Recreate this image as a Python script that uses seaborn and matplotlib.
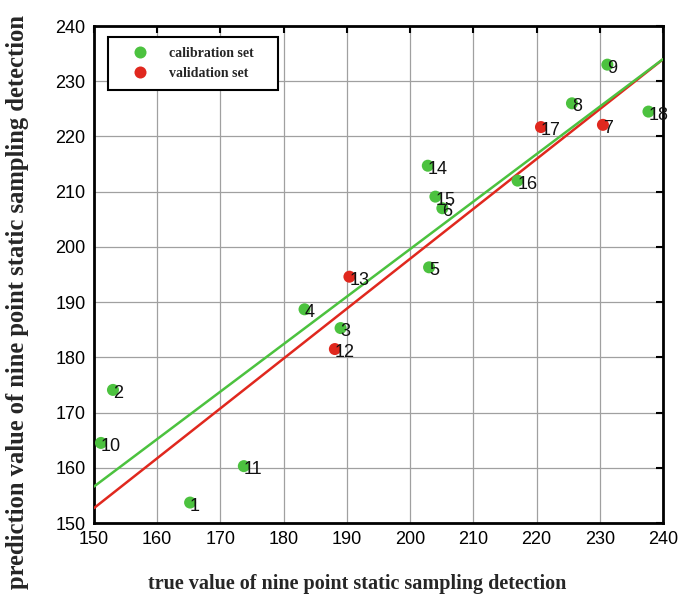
import matplotlib
matplotlib.use("Agg")
import matplotlib.pyplot as plt
import seaborn as sns
import pandas as pd
import numpy as np

# Sample values: true (static sampling) vs predicted
cal_ids = [1, 2, 3, 4, 5, 6, 8, 9, 10, 11, 14, 15, 16, 18]
cal_true = [165.2, 153.0, 189.0, 183.3, 203.0, 205.1, 225.6, 231.2, 151.1, 173.7, 202.8, 204.0, 217.0, 237.7]
cal_pred = [153.7, 174.1, 185.3, 188.7, 196.3, 207.0, 226.0, 233.0, 164.5, 160.3, 214.7, 209.1, 212.0, 224.5]

val_ids = [7, 12, 13, 17]
val_true = [230.5, 188.1, 190.4, 220.7]
val_pred = [222.1, 181.5, 194.6, 221.7]

# Fitted lines (slope, intercept)
cal_fit = (0.86, 27.6)
val_fit = (0.903, 17.25)

x_ticks = [150, 160, 170, 180, 190, 200, 210, 220, 230, 240]
y_ticks = [150, 160, 170, 180, 190, 200, 210, 220, 230, 240]

GREEN = "#4cc23f"
RED = "#e0281e"

sns.set_style("white")
plt.rcParams["font.family"] = ["Liberation Sans", "DejaVu Sans"]

df = pd.DataFrame({
    "true": cal_true + val_true,
    "pred": cal_pred + val_pred,
    "id": cal_ids + val_ids,
    "set": ["calibration set"] * len(cal_ids) + ["validation set"] * len(val_ids),
})

fig = plt.figure(figsize=(6.78, 6.01), dpi=100)
ax = fig.add_axes([94 / 678, 1 - 523 / 601, (663 - 94) / 678, (523 - 26) / 601])

# fitted lines
xs = np.array([150.0, 240.0])
line_df = pd.DataFrame({
    "x": np.concatenate([xs, xs]),
    "y": np.concatenate([val_fit[0] * xs + val_fit[1], cal_fit[0] * xs + cal_fit[1]]),
    "fit": ["validation"] * 2 + ["calibration"] * 2,
})
sns.lineplot(data=line_df, x="x", y="y", hue="fit",
             palette={"validation": RED, "calibration": GREEN},
             linewidth=1.8, legend=False, ax=ax, zorder=3)

sns.scatterplot(data=df, x="true", y="pred", hue="set",
                palette={"calibration set": GREEN, "validation set": RED},
                s=75, edgecolor="none", ax=ax, zorder=4)

for _, r in df.iterrows():
    ax.annotate(str(r["id"]), (r["true"], r["pred"]), xytext=(0, -2.5),
                textcoords="offset points", fontsize=13, color="#111111",
                ha="left", va="center", zorder=5)

ax.set_xlim(150, 240)
ax.set_ylim(150, 240)
ax.set_xticks(x_ticks)
ax.set_yticks(y_ticks)
ax.grid(True, color="#a0a0a0", linewidth=0.9, zorder=0)
ax.set_axisbelow(True)
for sp in ax.spines.values():
    sp.set_color("black")
    sp.set_linewidth(2.0)
ax.tick_params(direction="in", length=5, width=1.5, top=True, right=True,
               labelsize=13, colors="black", pad=6)

ax.set_xlabel("true value of nine point static sampling detection",
              family="Liberation Serif", fontweight="bold", fontsize=14.5)
ax.xaxis.label.set_va("center")
ax.xaxis.set_label_coords(0.462, -0.123)
ax.set_ylabel("prediction value of nine point static sampling detection",
              family="Liberation Serif", fontweight="bold", fontsize=17.7)
ax.yaxis.label.set_va("center")
ax.yaxis.set_label_coords(-0.134, 0.445)

leg = ax.legend(loc="upper left", bbox_to_anchor=(0.025, 0.87, 0.299, 0.108),
                mode="expand", frameon=True,
                fancybox=False, edgecolor="black", framealpha=1,
                prop={"family": "Liberation Serif", "size": 10, "weight": "bold"},
                handlelength=3.2, handletextpad=0.45, borderpad=0.7,
                labelspacing=0.55, borderaxespad=0)
leg.get_frame().set_linewidth(1.5)

fig.savefig("out.png", dpi=100)
